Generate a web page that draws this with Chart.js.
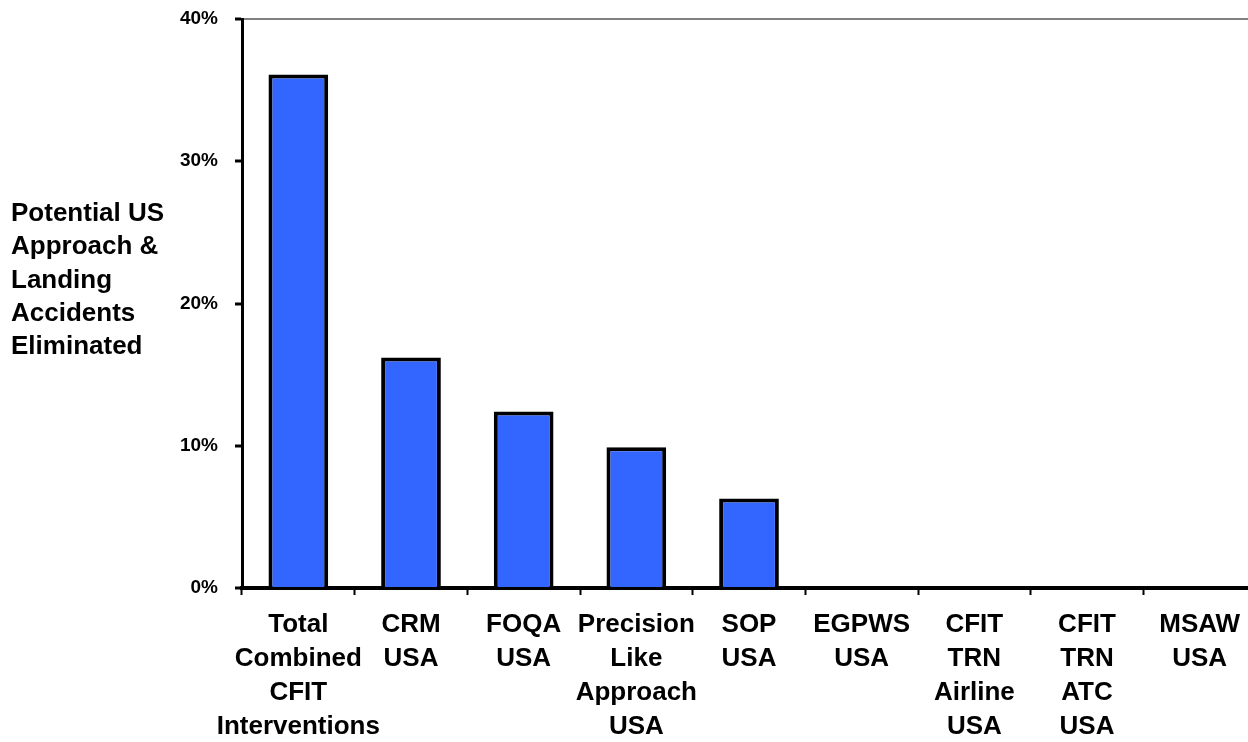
<!DOCTYPE html>
<html>
<head>
<meta charset="utf-8">
<script src="https://cdn.jsdelivr.net/npm/chart.js@4/dist/chart.umd.min.js"></script>
<style>
  html, body { margin: 0; padding: 0; background: #fff; overflow: hidden; }
  #wrap { width: 1256px; height: 742px; }
</style>
</head>
<body>
<div id="wrap"><canvas id="chart" width="1256" height="742"></canvas></div>
<script>
// categories (multi-line tick labels)
const categories = [
  ['Total', 'Combined', 'CFIT', 'Interventions'],
  ['CRM', 'USA'],
  ['FOQA', 'USA'],
  ['Precision', 'Like', 'Approach', 'USA'],
  ['SOP', 'USA'],
  ['EGPWS', 'USA'],
  ['CFIT', 'TRN', 'Airline', 'USA'],
  ['CFIT', 'TRN', 'ATC', 'USA'],
  ['MSAW', 'USA']
];
// percent of accidents eliminated
const eliminated = [36.1, 16.2, 12.4, 9.9, 6.3, 0, 0, 0, 0];
const yTicks = [0, 10, 20, 30, 40];
const yTitle = ['Potential US', 'Approach &', 'Landing', 'Accidents', 'Eliminated'];

const titlePlugin = {
  id: 'yTitle',
  afterDraw(chart) {
    const ctx = chart.ctx;
    ctx.save();
    ctx.fillStyle = '#000';
    ctx.font = 'bold 26px "Liberation Sans", Arial, sans-serif';
    ctx.textAlign = 'left';
    ctx.textBaseline = 'middle';
    yTitle.forEach((line, i) => {
      ctx.fillText(line, 11, 214 + i * 33.3);
    });
    ctx.restore();
  }
};

new Chart(document.getElementById('chart'), {
  type: 'bar',
  data: {
    labels: categories,
    datasets: [{
      data: eliminated,
      backgroundColor: '#3366FF',
      borderColor: '#000',
      borderWidth: 4,
      categoryPercentage: 1,
      barPercentage: 0.53
    }]
  },
  options: {
    responsive: false,
    animation: false,
    layout: { padding: { top: 19, right: 0, left: 0, bottom: 0 } },
    plugins: { legend: { display: false }, tooltip: { enabled: false } },
    scales: {
      x: {
        afterFit(scale) { scale.height = 154; },
        border: { color: '#000', width: 4 },
        grid: { drawOnChartArea: false, drawTicks: true, tickLength: 7, tickColor: '#000', tickWidth: 2 },
        ticks: {
          color: '#000',
          maxRotation: 0,
          autoSkip: false,
          padding: 13,
          font: { family: '"Liberation Sans", Arial, sans-serif', weight: 'bold', size: 26, lineHeight: '34px' }
        }
      },
      y: {
        min: 0,
        max: 40,
        afterFit(scale) {
          scale.width = 242;
          scale.paddingTop = 0;
          scale.paddingBottom = 0;
        },
        afterBuildTicks(scale) { scale.ticks = yTicks.map(v => ({ value: v })); },
        border: { color: '#000', width: 3 },
        grid: {
          color: c => (c.tick.value === 40 || c.tick.value === 0) ? '#808080' : 'rgba(0,0,0,0)',
          lineWidth: 2,
          drawTicks: true,
          tickLength: 7,
          tickColor: '#000',
          tickWidth: 3
        },
        ticks: {
          color: '#000',
          padding: 17,
          callback: v => v + '%',
          font: { family: '"Liberation Sans", Arial, sans-serif', weight: 'bold', size: 19 }
        }
      }
    }
  },
  plugins: [titlePlugin]
});
</script>
</body>
</html>
